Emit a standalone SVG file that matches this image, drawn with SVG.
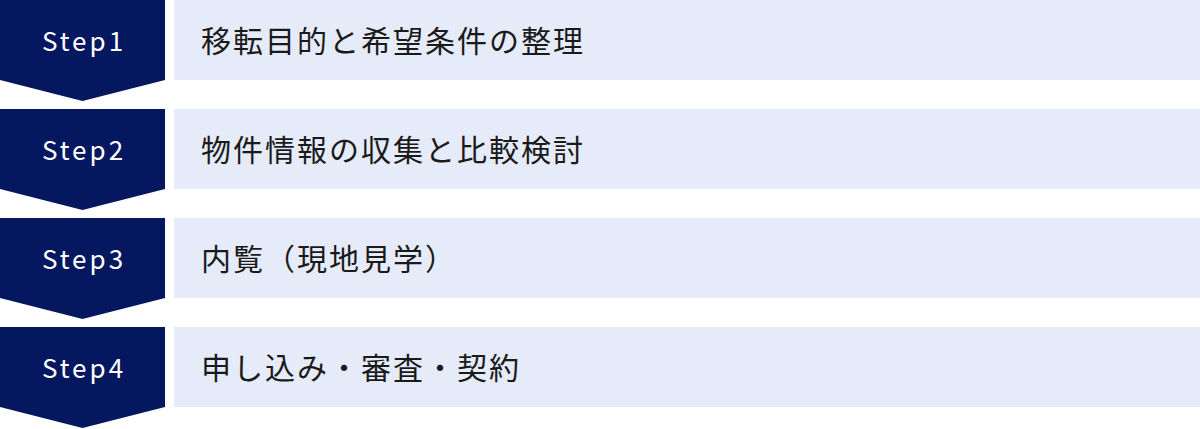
<svg xmlns="http://www.w3.org/2000/svg" width="1200" height="429" viewBox="0 0 1200 429">
<style>
.step{fill:#04175f}
.bar{fill:#e6ebf9}
.st{font-family:"Noto Sans CJK JP","Noto Sans",sans-serif;font-size:26px;fill:#ffffff;letter-spacing:3px;text-anchor:middle}
.lb{font-family:"Noto Sans CJK JP","Noto Sans",sans-serif;font-size:30px;fill:#1a1a1a;letter-spacing:2px}
</style>
<rect width="1200" height="429" fill="#ffffff"/>
<g id="step1">
<polygon class="step" points="0,0 165,0 165,80 82.5,101 0,80"/>
<text class="st" x="84" y="51">Step1</text>
<rect class="bar" x="174" y="0" width="1026" height="80"/>
<text class="lb" x="201" y="52">移転目的と希望条件の整理</text>
</g>
<g id="step2">
<polygon class="step" points="0,109 165,109 165,189 82.5,210 0,189"/>
<text class="st" x="84" y="160">Step2</text>
<rect class="bar" x="174" y="109" width="1026" height="80"/>
<text class="lb" x="201" y="161">物件情報の収集と比較検討</text>
</g>
<g id="step3">
<polygon class="step" points="0,218 165,218 165,298 82.5,319 0,298"/>
<text class="st" x="84" y="269">Step3</text>
<rect class="bar" x="174" y="218" width="1026" height="80"/>
<text class="lb" x="201" y="270">内覧（現地見学）</text>
</g>
<g id="step4">
<polygon class="step" points="0,327 165,327 165,407 82.5,428 0,407"/>
<text class="st" x="84" y="378">Step4</text>
<rect class="bar" x="174" y="327" width="1026" height="80"/>
<text class="lb" x="201" y="379">申し込み・審査・契約</text>
</g>
<g id="connectors"></g>
</svg>
